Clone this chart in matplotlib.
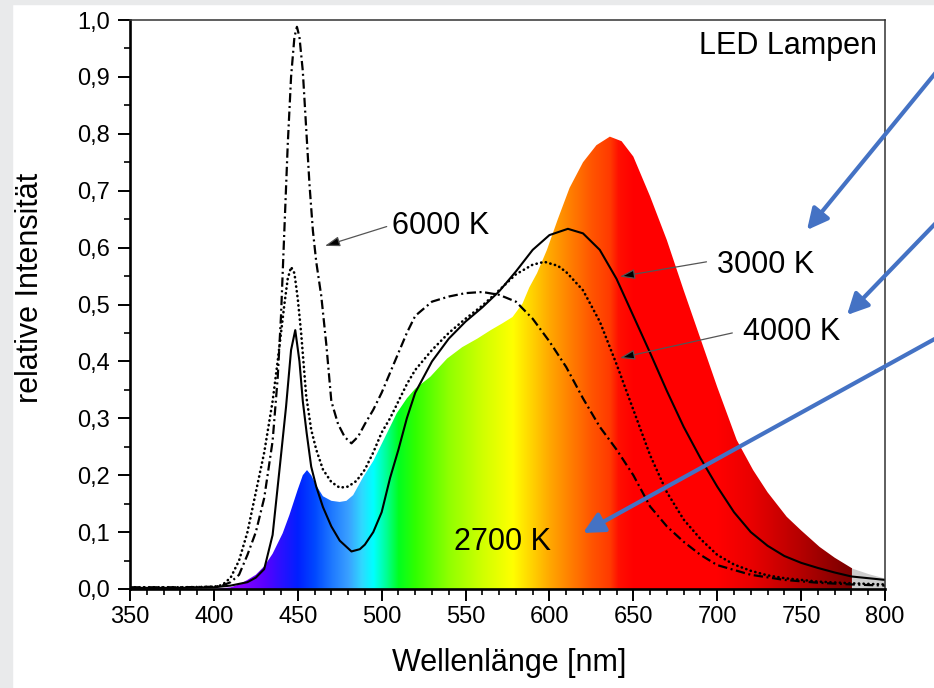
import numpy as np
import matplotlib
matplotlib.use('Agg')
import matplotlib.pyplot as plt
from matplotlib.patches import Polygon, Rectangle, FancyArrowPatch
from matplotlib.ticker import MultipleLocator, FuncFormatter

plt.rcParams['font.family'] = ['Liberation Sans', 'DejaVu Sans']

# ---------------- data ----------------
wl_6000 = [350, 380, 400, 405, 410, 415, 420, 425, 430, 435, 438, 440, 442, 444, 446,
           448, 449.5, 451, 453, 455, 457, 459, 461, 464, 467, 470, 474, 478, 482, 486,
           490, 495, 500, 505, 510, 515, 520, 530, 540, 550, 560, 570, 580, 590, 600,
           610, 620, 630, 640, 650, 660, 670, 680, 690, 700, 720, 740, 760, 780, 800]
int_6000 = [0.003, 0.003, 0.004, 0.006, 0.012, 0.025, 0.06, 0.10, 0.16, 0.26, 0.37, 0.48, 0.63, 0.78, 0.90,
            0.97, 0.988, 0.97, 0.91, 0.81, 0.71, 0.63, 0.575, 0.515, 0.43, 0.33, 0.29, 0.267, 0.256, 0.268,
            0.29, 0.315, 0.345, 0.38, 0.415, 0.45, 0.48, 0.505, 0.514, 0.52, 0.522, 0.517, 0.505, 0.475, 0.435,
            0.39, 0.335, 0.285, 0.245, 0.20, 0.145, 0.11, 0.083, 0.06, 0.042, 0.025, 0.016, 0.011, 0.008, 0.006]

wl_4000 = [350, 380, 400, 405, 410, 415, 420, 425, 430, 435, 438, 440, 442, 444, 446,
           448, 450, 452, 455, 458, 461, 465, 470, 475, 480, 485, 490, 495, 500, 505,
           510, 515, 520, 530, 540, 550, 560, 570, 580, 590, 597, 605, 610, 620, 630,
           640, 650, 660, 670, 680, 690, 700, 710, 720, 730, 740, 750, 760, 780, 800]
int_4000 = [0.003, 0.003, 0.004, 0.007, 0.02, 0.05, 0.10, 0.17, 0.24, 0.33, 0.40, 0.45, 0.50, 0.545, 0.566,
            0.555, 0.51, 0.45, 0.34, 0.28, 0.245, 0.21, 0.188, 0.178, 0.18, 0.19, 0.21, 0.24, 0.275, 0.30,
            0.33, 0.36, 0.385, 0.42, 0.45, 0.475, 0.498, 0.525, 0.553, 0.57, 0.575, 0.568, 0.557, 0.525, 0.47,
            0.395, 0.315, 0.235, 0.17, 0.122, 0.088, 0.06, 0.043, 0.032, 0.024, 0.019, 0.016, 0.013, 0.01, 0.008]

wl_3000 = [350, 380, 400, 410, 420, 425, 430, 435, 440, 443, 446, 448.5, 451, 453, 455.3,
           458, 461, 465, 470, 475, 482, 487, 490, 495, 500, 505, 510, 515, 520, 530,
           540, 550, 560, 570, 580, 590, 600, 611, 620, 630, 640, 650, 660, 670, 680,
           690, 700, 710, 720, 730, 740, 750, 760, 770, 780, 790, 800]
int_3000 = [0.002, 0.002, 0.003, 0.006, 0.012, 0.02, 0.035, 0.095, 0.235, 0.32, 0.42, 0.455, 0.40, 0.33, 0.274,
            0.215, 0.18, 0.144, 0.11, 0.085, 0.066, 0.07, 0.078, 0.10, 0.135, 0.195, 0.245, 0.30, 0.345, 0.40,
            0.44, 0.47, 0.495, 0.523, 0.558, 0.596, 0.622, 0.633, 0.625, 0.596, 0.545, 0.48, 0.415, 0.348, 0.285,
            0.23, 0.18, 0.135, 0.10, 0.076, 0.058, 0.046, 0.037, 0.029, 0.022, 0.019, 0.016]

wl_2700 = [350, 400, 410, 415, 420, 425, 430, 435, 441, 445, 450, 453, 455.5, 458, 461,
           465, 470, 475, 479, 483, 489, 495, 500, 505, 509, 515, 520, 529, 539, 548,
           557, 565, 572, 578, 584, 588, 592.6, 598.5, 605, 612, 620, 628, 636, 643, 650,
           660, 670, 680, 690, 700, 711.6, 721.4, 730, 741.4, 750, 761, 770, 780, 790, 800]
int_2700 = [0.0, 0.0, 0.003, 0.008, 0.016, 0.025, 0.04, 0.062, 0.098, 0.13, 0.175, 0.2, 0.209, 0.2, 0.182,
            0.163, 0.155, 0.153, 0.155, 0.165, 0.197, 0.225, 0.255, 0.285, 0.309, 0.335, 0.352, 0.373, 0.405, 0.425,
            0.44, 0.455, 0.467, 0.478, 0.502, 0.53, 0.555, 0.596, 0.65, 0.705, 0.75, 0.78, 0.795, 0.787, 0.76,
            0.69, 0.613, 0.525, 0.44, 0.355, 0.262, 0.209, 0.17, 0.127, 0.103, 0.074, 0.055, 0.037, 0.027, 0.019]

x_ticks = [350, 400, 450, 500, 550, 600, 650, 700, 750, 800]
y_ticks = [0.0, 0.1, 0.2, 0.3, 0.4, 0.5, 0.6, 0.7, 0.8, 0.9, 1.0]

# spectral colour stops (style)
stop_wl = [400, 415, 430, 440, 450, 460, 470, 480, 488, 495, 503, 510, 520, 540, 560, 578,
           590, 600, 612, 625, 636, 641, 650, 700, 720, 750, 775, 780]
stop_hex = ['#7a00ff', '#8a00ff', '#5a00ff', '#2a10ff', '#0020ff', '#0048ff', '#1e78ff', '#3aa0ff',
            '#30d8ff', '#00ffff', '#00ff90', '#00ff20', '#30ff00', '#90ff00', '#d0ff00', '#ffff00',
            '#ffd000', '#ffa800', '#ff8000', '#ff5500', '#ff3a00', '#ff1000', '#ff0000', '#ff0000',
            '#ea0000', '#b40000', '#820000', '#7a0000']

# ---------------- figure ----------------
W, H = 934, 688
fig = plt.figure(figsize=(W / 100, H / 100), dpi=100)
fig.patch.set_facecolor('white')
fig.add_artist(Rectangle((0, 0), 12 / W, 1, transform=fig.transFigure, color='#e9eaeb', zorder=0))
fig.add_artist(Rectangle((0, 1 - 4 / H), 1, 4 / H, transform=fig.transFigure, color='#e9eaeb', zorder=0))

ax = fig.add_axes([130 / W, 1 - 589 / H, 755 / W, 569 / H])

# spectrum fill for 2700 K
rgb_stops = np.array([matplotlib.colors.to_rgb(c) for c in stop_hex])
spec_wl = np.linspace(400, 780, 1521)
rgb = np.stack([np.interp(spec_wl, stop_wl, rgb_stops[:, i]) for i in range(3)], axis=-1)[None, :, :]
im = ax.imshow(rgb, extent=(400, 780, 0, 1), aspect='auto', origin='lower',
               interpolation='bilinear', zorder=1)
verts = list(zip(wl_2700, int_2700)) + [(wl_2700[-1], 0), (wl_2700[0], 0)]
poly = Polygon(verts, closed=True, facecolor='none', edgecolor='none')
ax.add_patch(poly)
im.set_clip_path(poly)

wl27 = np.array(wl_2700)
i27 = np.array(int_2700)
m = wl27 >= 780
ax.fill_between(wl27[m], i27[m], 0, color='#cdcdcd', lw=0, zorder=1)

# curves
ax.plot(wl_6000, int_6000, color='black', lw=1.6, ls=(0, (4.2, 1.6, 0.9, 1.6)), zorder=3)
ax.plot(wl_4000, int_4000, color='black', lw=1.9, ls=(0, (0.1, 1.7)),
        dash_capstyle='round', zorder=3)
ax.plot(wl_3000, int_3000, color='black', lw=1.5, zorder=3)

ax.set_xlim(350, 800)
ax.set_ylim(0, 1.0)

# axes styling
ax.set_xticks(x_ticks)
ax.set_yticks(y_ticks)
ax.xaxis.set_minor_locator(MultipleLocator(10))
ax.yaxis.set_minor_locator(MultipleLocator(0.05))
ax.yaxis.set_major_formatter(FuncFormatter(lambda v, p: f'{v:.1f}'.replace('.', ',')))
ax.tick_params(which='major', direction='out', length=8.5, width=1.4, labelsize=17,
               top=False, right=False)
ax.tick_params(axis='y', which='major', pad=6)
ax.tick_params(axis='x', which='major', pad=4)
ax.tick_params(which='minor', direction='out', length=4.5, width=1.2, top=False, right=False)
for s in ['left', 'bottom']:
    ax.spines[s].set_linewidth(1.9)
    ax.spines[s].set_color('black')
for s in ['top', 'right']:
    ax.spines[s].set_linewidth(1.1)
    ax.spines[s].set_color('#333333')
for s in ax.spines.values():
    s.set_zorder(5)

fig.text(509 / W, 1 - 663 / H, 'Wellenlänge [nm]', ha='center', va='center', fontsize=22)
fig.text(30 / W, 1 - 288 / H, 'relative Intensität', ha='center', va='center',
         rotation=90, fontsize=22)

# labels
ax.text(795.2, 0.94, 'LED Lampen', ha='right', va='baseline', fontsize=22, zorder=6)
ax.text(505.9, 0.624, '6000 K', ha='left', va='baseline', fontsize=22, zorder=6)
ax.text(699.6, 0.555, '3000 K', ha='left', va='baseline', fontsize=22, zorder=6)
ax.text(715.4, 0.4376, '4000 K', ha='left', va='baseline', fontsize=22, zorder=6)
ax.text(543.0, 0.0685, '2700 K', ha='left', va='baseline', fontsize=22, zorder=6)

black_arrow = dict(arrowstyle='-|>,head_length=0.9,head_width=0.3', ec='#555555', fc='black',
                   lw=0.9, shrinkA=0, shrinkB=0, mutation_scale=10)
ax.annotate('', xy=(466.2, 0.603), xytext=(503.0, 0.637), arrowprops=black_arrow, zorder=6)
ax.annotate('', xy=(642.0, 0.549), xytext=(693.6, 0.575), arrowprops=black_arrow, zorder=6)
ax.annotate('', xy=(642.0, 0.406), xytext=(709.0, 0.450), arrowprops=black_arrow, zorder=6)

# blue call-out arrows (figure pixel positions)
def fig_xy(px, py):
    return (px / W, 1 - py / H)

for tail, head in [((960, 43), (807, 230)), ((960, 198), (847, 315)), ((960, 325), (583, 533))]:
    fig.add_artist(FancyArrowPatch(fig_xy(*tail), fig_xy(*head), transform=fig.transFigure,
                                   arrowstyle='-|>,head_length=0.9,head_width=0.45',
                                   mutation_scale=14, color='#4472C4', lw=3.0,
                                   shrinkA=0, shrinkB=0, zorder=10))

fig.savefig('out.png', dpi=100)
